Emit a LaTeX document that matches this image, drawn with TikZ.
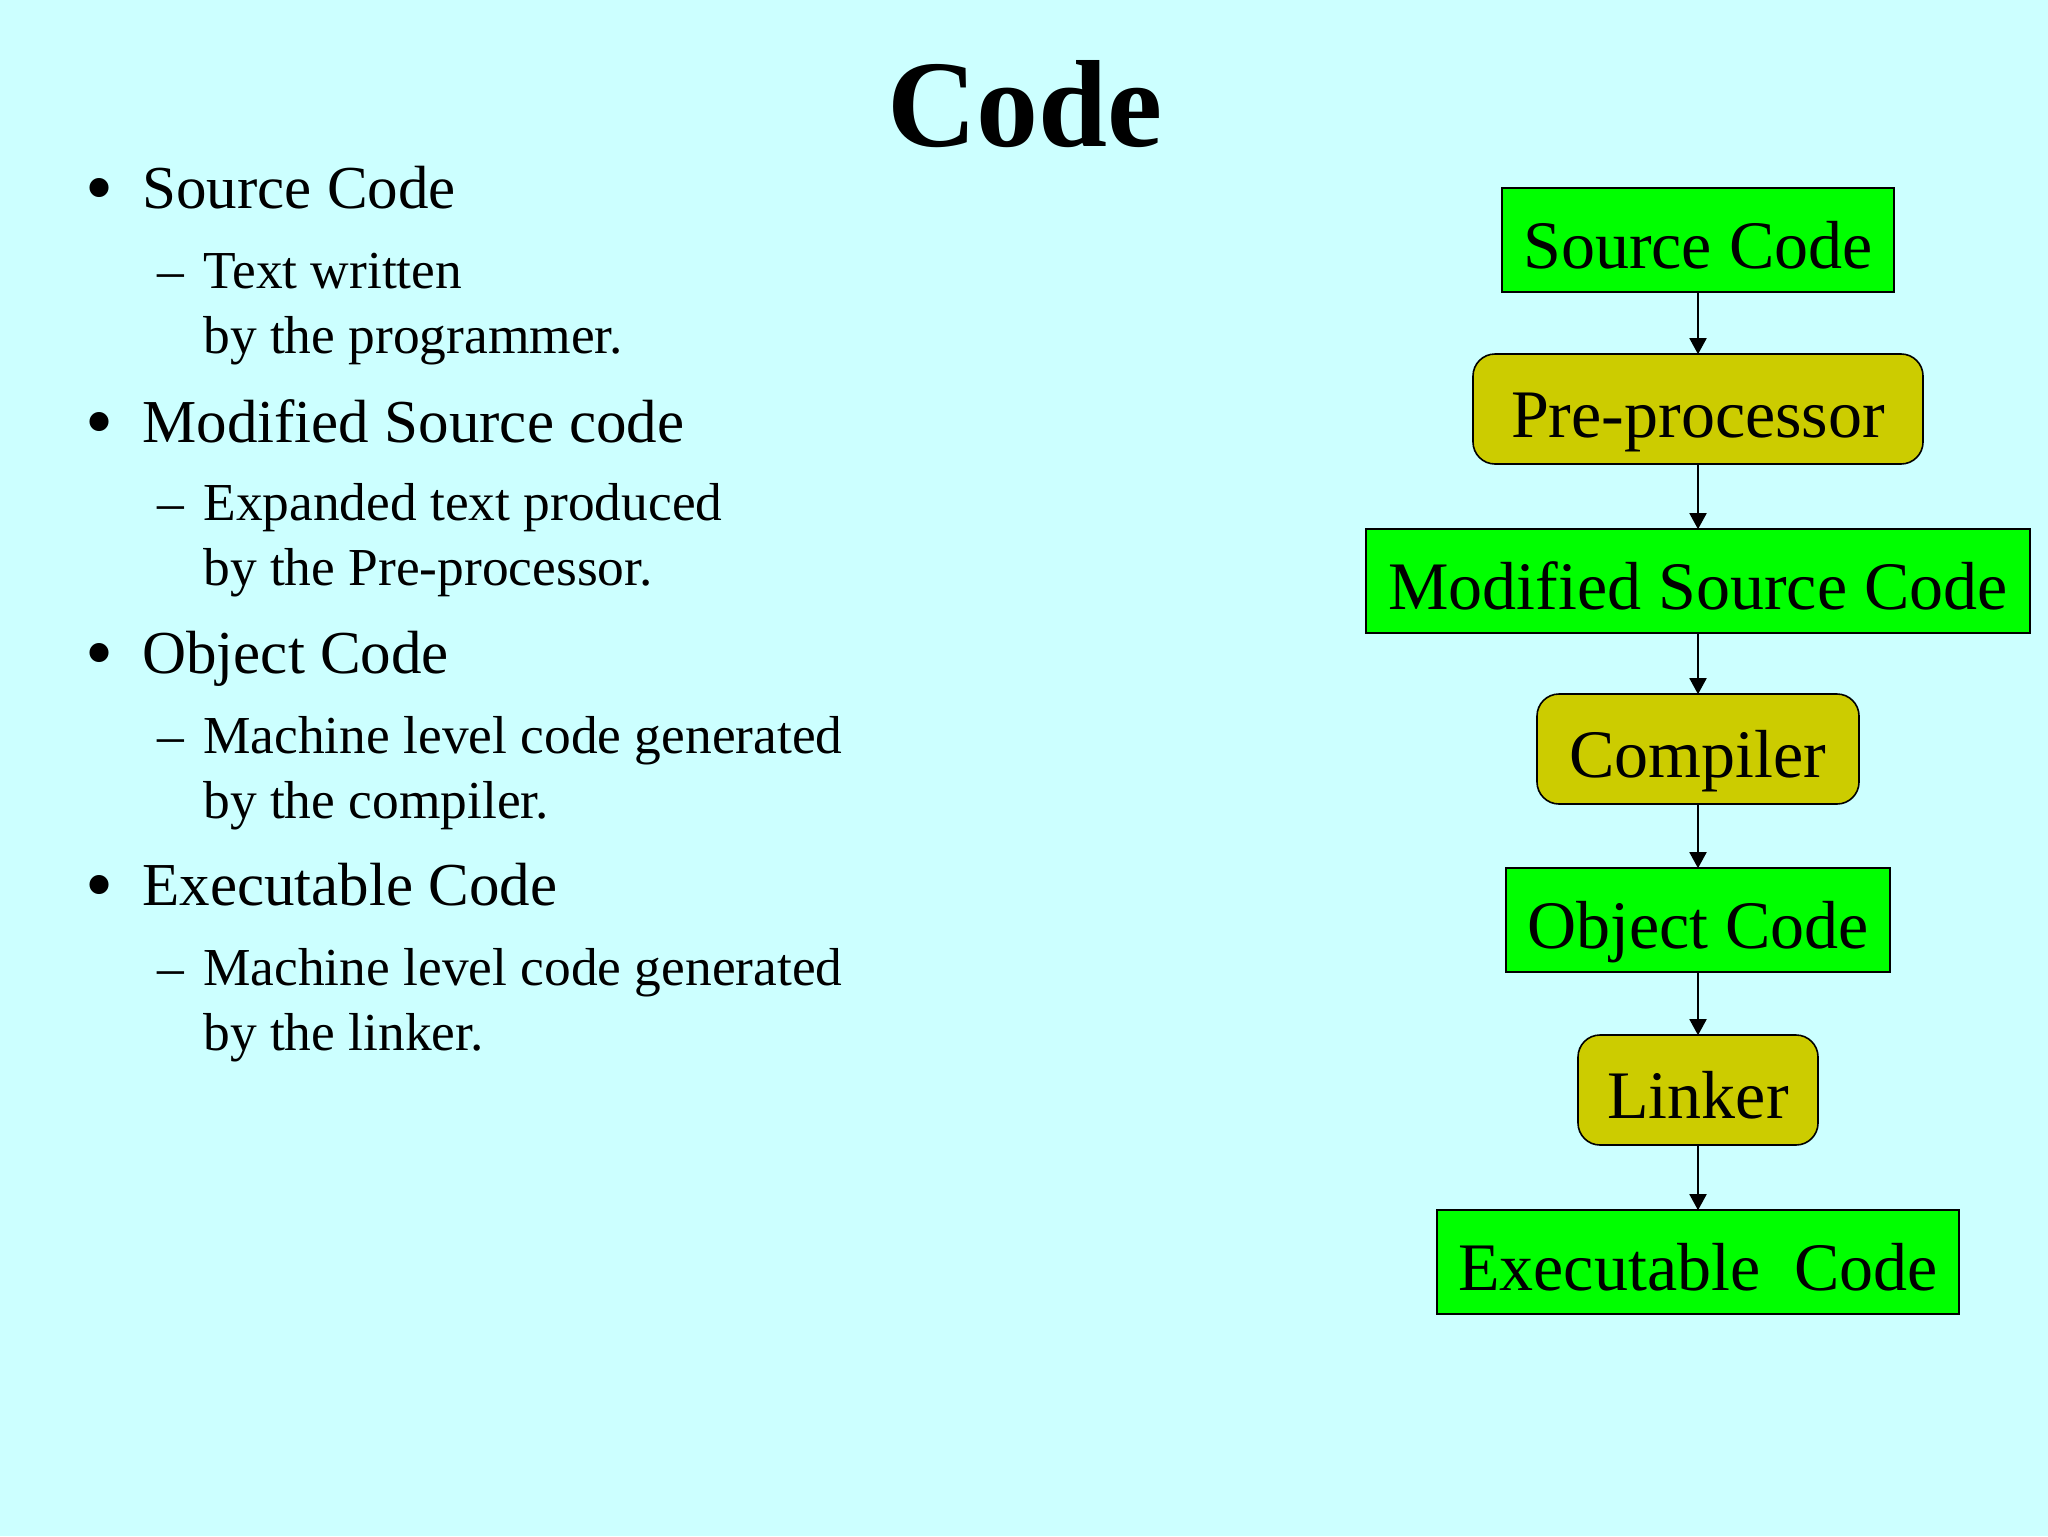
\documentclass[tikz,border=0pt]{standalone}
\usepackage{fontspec}
\setmainfont{Liberation Serif}
\usetikzlibrary{arrows.meta}
\definecolor{bg}{RGB}{204,255,255}
\definecolor{boxgreen}{RGB}{0,255,0}
\definecolor{boxolive}{RGB}{204,204,0}
\begin{document}
\begin{tikzpicture}[x=0.5pt,y=-0.5pt,
  lvlone/.style={anchor=base west, inner sep=0, font=\fontsize{30.5}{36}\selectfont},
  lvltwo/.style={anchor=base west, inner sep=0, font=\fontsize{26.7}{32}\selectfont},
  bulletmark/.style={inner sep=0, font=\fontsize{40}{44}\selectfont},
  dashmark/.style={anchor=base west, inner sep=0, font=\fontsize{26.7}{32}\selectfont},
  boxtext/.style={inner sep=0, text height=34pt, text depth=6pt, font=\fontsize{34}{40}\selectfont},
  databox/.style={boxtext, draw=black, line width=0.8pt, fill=boxgreen, minimum height=52pt},
  toolbox/.style={boxtext, draw=black, line width=0.8pt, fill=boxolive, rounded corners=11pt, minimum height=55pt},
  flow/.style={draw=black, line width=0.9pt, -{Triangle[width=8.5pt,length=8pt]}, shorten >=-0.5pt}
]
\fill[bg] (0,0) rectangle (2048,1536);
\useasboundingbox (0,0) rectangle (2048,1536);

% title
\node[font=\bfseries\fontsize{62}{70}\selectfont, anchor=base, inner sep=0] (title) at (1025,147) {Code};

% bullet list
\node[bulletmark] (b1) at (100,196) {•};
\node[lvlone] (t1) at (142,208) {Source Code};
\node[dashmark] (d1) at (157,288) {–};
\node[lvltwo] (s1a) at (203,288) {Text written};
\node[lvltwo] (s1b) at (203,353) {by the programmer.};

\node[bulletmark] (b2) at (100,430) {•};
\node[lvlone] (t2) at (142,442) {Modified Source code};
\node[dashmark] (d2) at (157,520) {–};
\node[lvltwo] (s2a) at (203,520) {Expanded text produced};
\node[lvltwo] (s2b) at (203,585) {by the Pre-processor.};

\node[bulletmark] (b3) at (100,661) {•};
\node[lvlone] (t3) at (142,673) {Object Code};
\node[dashmark] (d3) at (157,753) {–};
\node[lvltwo] (s3a) at (203,753) {Machine level code generated};
\node[lvltwo] (s3b) at (203,818) {by the compiler.};

\node[bulletmark] (b4) at (100,893) {•};
\node[lvlone] (t4) at (142,905) {Executable Code};
\node[dashmark] (d4) at (157,985) {–};
\node[lvltwo] (s4a) at (203,985) {Machine level code generated};
\node[lvltwo] (s4b) at (203,1050) {by the linker.};

% flow chart
\node[databox, minimum width=196pt] (sc) at (1698,240) {Source Code};
\node[toolbox, minimum width=225pt] (pp) at (1698,409) {Pre-processor};
\node[databox, minimum width=332pt] (msc) at (1698,581) {Modified Source Code};
\node[toolbox, minimum width=161pt] (cp) at (1698,749) {Compiler};
\node[databox, minimum width=192pt] (oc) at (1698,920) {Object Code};
\node[toolbox, minimum width=120pt] (lk) at (1698,1090) {Linker};
\node[databox, minimum width=261pt] (ec) at (1698,1262) {Executable\ \ Code};

\draw[flow] (sc) -- (pp);
\draw[flow] (pp) -- (msc);
\draw[flow] (msc) -- (cp);
\draw[flow] (cp) -- (oc);
\draw[flow] (oc) -- (lk);
\draw[flow] (lk) -- (ec);
\end{tikzpicture}
\end{document}
